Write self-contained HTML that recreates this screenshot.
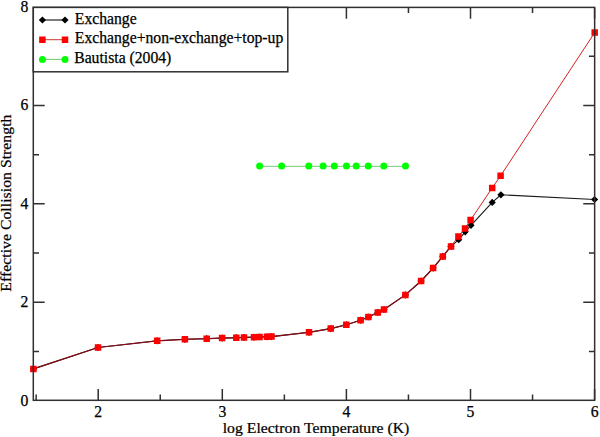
<!DOCTYPE html><html><head><meta charset="utf-8"><style>html,body{margin:0;padding:0;background:#fff;}svg{display:block}text{font-family:"Liberation Serif",serif;fill:#000;stroke:#000;stroke-width:0.25px}</style></head><body>
<svg width="600" height="437" viewBox="0 0 600 437">
<text x="98.20" y="416.8" font-size="15.7" text-anchor="middle">2</text>
<text x="222.30" y="416.8" font-size="15.7" text-anchor="middle">3</text>
<text x="346.40" y="416.8" font-size="15.7" text-anchor="middle">4</text>
<text x="470.50" y="416.8" font-size="15.7" text-anchor="middle">5</text>
<text x="594.60" y="416.8" font-size="15.7" text-anchor="middle">6</text>
<text x="28.3" y="405.50" font-size="15.7" text-anchor="end">0</text>
<text x="28.3" y="307.16" font-size="15.7" text-anchor="end">2</text>
<text x="28.3" y="208.82" font-size="15.7" text-anchor="end">4</text>
<text x="28.3" y="110.48" font-size="15.7" text-anchor="end">6</text>
<text x="28.3" y="12.14" font-size="15.7" text-anchor="end">8</text>
<text transform="translate(316.0,433.1) scale(1,0.92)" font-size="15.7" letter-spacing="0.04" text-anchor="middle">log Electron Temperature (K)</text>
<text transform="translate(10.9,203.1) rotate(-90) scale(1,0.9)" font-size="15.7" letter-spacing="0.05" text-anchor="middle">Effective Collision Strength</text>
<polyline points="33.40,368.90 98.00,347.50 157.20,340.80 184.90,339.30 206.70,338.70 222.10,338.10 236.30,337.70 244.00,337.40 254.00,337.20 259.50,337.00 267.00,336.80 271.50,336.60 309.00,332.30 330.75,328.60 346.30,324.75 360.60,320.20 368.40,317.00 377.80,312.40 384.00,309.50 405.40,294.90 421.10,281.00 433.10,268.10 442.80,256.40 451.00,246.40 458.70,239.70 465.20,231.80 471.00,225.30 492.20,202.40 500.90,194.80 594.60,199.50" stroke="#1a1a1a" stroke-width="1.15" fill="none"/>
<polyline points="259.60,166.35 281.60,166.35 308.80,166.35 323.10,166.35 334.30,166.35 346.45,166.35 356.20,166.35 368.20,166.35 383.80,166.35 405.50,166.35" stroke="#7c7" stroke-width="1" fill="none"/>
<path d="M33.40,365.30L37.00,368.90L33.40,372.50L29.80,368.90ZM98.00,343.90L101.60,347.50L98.00,351.10L94.40,347.50ZM157.20,337.20L160.80,340.80L157.20,344.40L153.60,340.80ZM184.90,335.70L188.50,339.30L184.90,342.90L181.30,339.30ZM206.70,335.10L210.30,338.70L206.70,342.30L203.10,338.70ZM222.10,334.50L225.70,338.10L222.10,341.70L218.50,338.10ZM236.30,334.10L239.90,337.70L236.30,341.30L232.70,337.70ZM244.00,333.80L247.60,337.40L244.00,341.00L240.40,337.40ZM254.00,333.60L257.60,337.20L254.00,340.80L250.40,337.20ZM259.50,333.40L263.10,337.00L259.50,340.60L255.90,337.00ZM267.00,333.20L270.60,336.80L267.00,340.40L263.40,336.80ZM271.50,333.00L275.10,336.60L271.50,340.20L267.90,336.60ZM309.00,328.70L312.60,332.30L309.00,335.90L305.40,332.30ZM330.75,325.00L334.35,328.60L330.75,332.20L327.15,328.60ZM346.30,321.15L349.90,324.75L346.30,328.35L342.70,324.75ZM360.60,316.60L364.20,320.20L360.60,323.80L357.00,320.20ZM368.40,313.40L372.00,317.00L368.40,320.60L364.80,317.00ZM377.80,308.80L381.40,312.40L377.80,316.00L374.20,312.40ZM384.00,305.90L387.60,309.50L384.00,313.10L380.40,309.50ZM405.40,291.30L409.00,294.90L405.40,298.50L401.80,294.90ZM421.10,277.40L424.70,281.00L421.10,284.60L417.50,281.00ZM433.10,264.50L436.70,268.10L433.10,271.70L429.50,268.10ZM442.80,252.80L446.40,256.40L442.80,260.00L439.20,256.40ZM451.00,242.80L454.60,246.40L451.00,250.00L447.40,246.40ZM458.70,236.10L462.30,239.70L458.70,243.30L455.10,239.70ZM465.20,228.20L468.80,231.80L465.20,235.40L461.60,231.80ZM471.00,221.70L474.60,225.30L471.00,228.90L467.40,225.30ZM492.20,198.80L495.80,202.40L492.20,206.00L488.60,202.40ZM500.90,191.20L504.50,194.80L500.90,198.40L497.30,194.80ZM594.60,195.90L598.20,199.50L594.60,203.10L591.00,199.50Z" fill="#000"/>
<polyline points="451.00,246.40 458.40,236.50 465.00,228.40 470.60,220.00 492.20,187.90 500.60,175.80 594.70,32.60" stroke="#d42020" stroke-width="1" fill="none"/>
<polyline points="33.40,368.90 98.00,347.50 157.20,340.80 184.90,339.30 206.70,338.70 222.10,338.10 236.30,337.70 244.00,337.40 254.00,337.20 259.50,337.00 267.00,336.80 271.50,336.60 309.00,332.30 330.75,328.60 346.30,324.75 360.60,320.20 368.40,317.00 377.80,312.40 384.00,309.50 405.40,294.90 421.10,281.00 433.10,268.10 442.80,256.40 451.00,246.40" stroke="#8a0a14" stroke-width="1.2" fill="none"/>
<path d="M30.15,365.65h6.5v6.5h-6.5ZM94.75,344.25h6.5v6.5h-6.5ZM153.95,337.55h6.5v6.5h-6.5ZM181.65,336.05h6.5v6.5h-6.5ZM203.45,335.45h6.5v6.5h-6.5ZM218.85,334.85h6.5v6.5h-6.5ZM233.05,334.45h6.5v6.5h-6.5ZM240.75,334.15h6.5v6.5h-6.5ZM250.75,333.95h6.5v6.5h-6.5ZM256.25,333.75h6.5v6.5h-6.5ZM263.75,333.55h6.5v6.5h-6.5ZM268.25,333.35h6.5v6.5h-6.5ZM305.75,329.05h6.5v6.5h-6.5ZM327.50,325.35h6.5v6.5h-6.5ZM343.05,321.50h6.5v6.5h-6.5ZM357.35,316.95h6.5v6.5h-6.5ZM365.15,313.75h6.5v6.5h-6.5ZM374.55,309.15h6.5v6.5h-6.5ZM380.75,306.25h6.5v6.5h-6.5ZM402.15,291.65h6.5v6.5h-6.5ZM417.85,277.75h6.5v6.5h-6.5ZM429.85,264.85h6.5v6.5h-6.5ZM439.55,253.15h6.5v6.5h-6.5ZM447.75,243.15h6.5v6.5h-6.5ZM455.15,233.25h6.5v6.5h-6.5ZM461.75,225.15h6.5v6.5h-6.5ZM467.35,216.75h6.5v6.5h-6.5ZM488.95,184.65h6.5v6.5h-6.5ZM497.35,172.55h6.5v6.5h-6.5ZM591.45,29.35h6.5v6.5h-6.5Z" fill="#ff0000"/>
<g fill="#00ff00"><circle cx="259.60" cy="166.00" r="3.5"/><circle cx="281.60" cy="166.00" r="3.5"/><circle cx="308.80" cy="166.00" r="3.5"/><circle cx="323.10" cy="166.00" r="3.5"/><circle cx="334.30" cy="166.00" r="3.5"/><circle cx="346.45" cy="166.00" r="3.5"/><circle cx="356.20" cy="166.00" r="3.5"/><circle cx="368.20" cy="166.00" r="3.5"/><circle cx="383.80" cy="166.00" r="3.5"/><circle cx="405.50" cy="166.00" r="3.5"/></g>
<path d="M98.20,400.3V388.90000000000003M98.20,7.4V18.8M222.30,400.3V388.90000000000003M222.30,7.4V18.8M346.40,400.3V388.90000000000003M346.40,7.4V18.8M470.50,400.3V388.90000000000003M470.50,7.4V18.8M594.60,400.3V388.90000000000003M594.60,7.4V18.8M36.15,400.3V394.6M36.15,7.4V13.100000000000001M160.25,400.3V394.6M160.25,7.4V13.100000000000001M284.35,400.3V394.6M284.35,7.4V13.100000000000001M408.45,400.3V394.6M408.45,7.4V13.100000000000001M532.55,400.3V394.6M532.55,7.4V13.100000000000001M33.3,302.25H44.699999999999996M594.65,302.25H583.25M33.3,203.85H44.699999999999996M594.65,203.85H583.25M33.3,105.45H44.699999999999996M594.65,105.45H583.25M33.3,351.45H39.0M594.65,351.45H588.9499999999999M33.3,253.05H39.0M594.65,253.05H588.9499999999999M33.3,154.65H39.0M594.65,154.65H588.9499999999999M33.3,56.25H39.0M594.65,56.25H588.9499999999999" stroke="#303030" stroke-width="1.5" fill="none"/>
<rect x="33.3" y="7.4" width="561.35" height="392.90" stroke="#303030" stroke-width="1.5" fill="none"/>
<rect x="33.3" y="7.4" width="254.50" height="64.40" stroke="#303030" stroke-width="1.5" fill="#fff"/>
<path d="M42.4,20.0H65.0" stroke="#333" stroke-width="1.3"/>
<path d="M42.40,16.40L46.00,20.00L42.40,23.60L38.80,20.00ZM65.00,16.40L68.60,20.00L65.00,23.60L61.40,20.00Z" fill="#000"/>
<path d="M42.4,39.7H65.0" stroke="#c83838" stroke-width="1"/>
<path d="M39.15,36.45h6.5v6.5h-6.5Z M61.75,36.45h6.5v6.5h-6.5Z" fill="#ff0000"/>
<path d="M42.4,59.4H65.0" stroke="#6c6" stroke-width="1"/>
<circle cx="42.4" cy="59.4" r="3.5" fill="#00ff00"/><circle cx="65.0" cy="59.4" r="3.5" fill="#00ff00"/>
<text x="74.80" y="24.20" font-size="15.7">Exchange</text>
<text x="74.80" y="43.30" font-size="15.7">Exchange+non-exchange+top-up</text>
<text x="74.20" y="63.40" font-size="15.7">Bautista (2004)</text>
</svg></body></html>
